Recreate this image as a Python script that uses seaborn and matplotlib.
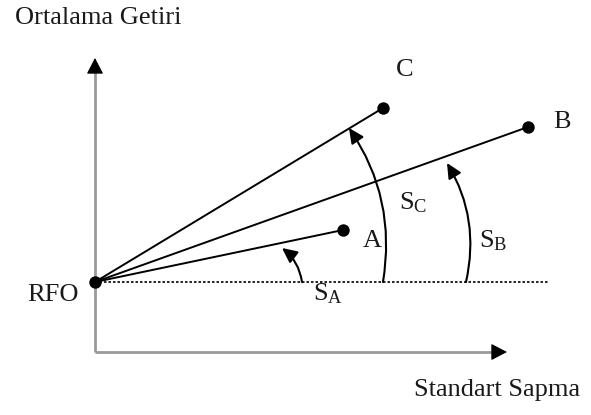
import numpy as np
import pandas as pd
import matplotlib
matplotlib.use("Agg")
import matplotlib.pyplot as plt
import seaborn as sns

# Risk-free rate and three portfolios (standard deviation, mean return)
rf_sigma = 0.0
rf_return = 7.0
portfolios = ["A", "B", "C"]
sigma = [24.8, 43.3, 28.8]
mean_return = [12.2, 22.5, 24.4]

# Sharpe-angle arcs: start on the risk-free line, end near each capital line
arc_labels = ["S_A", "S_B", "S_C"]
arc_start_sigma = [20.7, 37.1, 28.8]
arc_end = [(18.7, 10.4), (35.2, 18.9), (25.4, 22.4)]
arc_label_pos = [(23.3, 5.8), (39.8, 11.1), (31.8, 14.9)]

sns.set_theme(style="white")
plt.rcParams["font.family"] = ["Liberation Serif", "DejaVu Serif"]
plt.rcParams["mathtext.fontset"] = "custom"
plt.rcParams["mathtext.rm"] = "Liberation Serif"
plt.rcParams["mathtext.it"] = "Liberation Serif"

fig = plt.figure(figsize=(5.91, 4.15), dpi=100)
ax = fig.add_axes([0, 0, 1, 1])
ax.set_xlim(-9.5, 49.6)
ax.set_ylim(-6.3, 35.2)
ax.axis("off")

axis_color = "#9a9a9a"
text_color = "#1a1a1a"
# Axes drawn as arrows
ax.plot([0, 0], [0, 28.5], color=axis_color, lw=2.0, solid_capstyle="butt")
ax.annotate("", xy=(0, 29.4), xytext=(0, 28.0),
            arrowprops=dict(arrowstyle="-|>,head_length=0.5,head_width=0.26",
                            color="black", lw=0.8, mutation_scale=20,
                            shrinkA=0, shrinkB=0))
ax.plot([0, 40.3], [0, 0], color=axis_color, lw=2.0, solid_capstyle="butt")
ax.annotate("", xy=(41.2, 0), xytext=(39.8, 0),
            arrowprops=dict(arrowstyle="-|>,head_length=0.5,head_width=0.26",
                            color="black", lw=0.8, mutation_scale=20,
                            shrinkA=0, shrinkB=0))

# Risk-free reference line
ax.plot([rf_sigma, 45.3], [rf_return, rf_return], color="black", lw=1.2,
        linestyle=(0, (1.5, 1.2)))

# Capital allocation lines from the risk-free point
for s, r in zip(sigma, mean_return):
    seg = pd.DataFrame({"sigma": [rf_sigma, s], "ret": [rf_return, r]})
    sns.lineplot(data=seg, x="sigma", y="ret", ax=ax, color="black",
                 lw=1.4, sort=False, estimator=None)

pts = pd.DataFrame({"sigma": [rf_sigma] + sigma,
                    "ret": [rf_return] + mean_return})
sns.scatterplot(data=pts, x="sigma", y="ret", ax=ax, color="black",
                s=80, edgecolor="black", linewidth=0, zorder=5)

# Curved arrows for the Sharpe angles
for s0, end in zip(arc_start_sigma, arc_end):
    ax.annotate("", xy=end, xytext=(s0, rf_return),
                arrowprops=dict(arrowstyle="-|>,head_length=0.5,head_width=0.24",
                                connectionstyle="arc3,rad=0.2",
                                color="black", lw=1.5, mutation_scale=18,
                                shrinkA=0, shrinkB=0))

fs = 19
for lab, (x, y) in zip(arc_labels, arc_label_pos):
    base, sub = lab.split("_")
    ax.text(x, y, rf"$\mathrm{{{base}}}_{{\mathrm{{{sub}}}}}$", fontsize=fs,
            ha="center", va="center", color=text_color)

# Point labels
ax.text(-4.2, 5.7, "RFO", fontsize=fs, ha="center", va="center", color=text_color)
ax.text(27.7, 11.1, "A", fontsize=fs, ha="center", va="center", color=text_color)
ax.text(46.7, 23.0, "B", fontsize=fs, ha="center", va="center", color=text_color)
ax.text(31.0, 28.2, "C", fontsize=fs, ha="center", va="center", color=text_color)

# Axis titles
ax.text(0.3, 33.4, "Ortalama Getiri", fontsize=fs, ha="center", va="center",
        color=text_color)
ax.text(40.2, -3.8, "Standart Sapma", fontsize=fs, ha="center", va="center",
        color=text_color)

fig.savefig("out.png", dpi=100)
